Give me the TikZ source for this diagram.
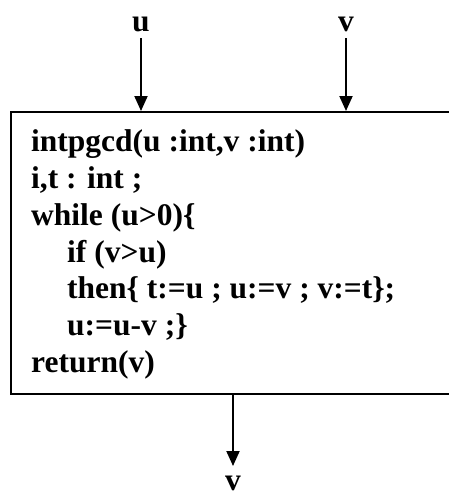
\documentclass[tikz,border=0pt]{standalone}
\usepackage{fontspec}
\setmainfont{Liberation Serif}
\usetikzlibrary{arrows.meta}
\begin{document}
\begin{tikzpicture}[x=1pt,y=-1pt,
  lbl/.style={font=\fontsize{31.5}{37}\selectfont\bfseries, inner sep=0pt, anchor=base},
  codeline/.style={font=\fontsize{31.5}{37}\selectfont\bfseries, inner sep=0pt, anchor=base west},
  flow/.style={line width=2pt, -{Triangle[length=15pt,width=13pt]}},
  boxstyle/.style={draw, line width=2pt, inner sep=0pt, anchor=north west}]
\useasboundingbox (0,0) rectangle (448,496);
% box (right side runs past the page)
\node[boxstyle, minimum width=470pt, minimum height=282pt] (box) at (10,111) {};
% input labels
\node[lbl] (lu) at (141,31) {u};
\node[lbl] (lv) at (346,31) {v};
\coordinate (u0) at (141,38);
\coordinate (v0) at (346,38);
\draw[flow] (u0) -- (u0 |- box.north);
\draw[flow] (v0) -- (v0 |- box.north);
% code
\node[codeline] (c1) at (31,151) {intpgcd(u :int,v :int)};
\node[codeline] (c2) at (31,188) {i,t : int ;};
\node[codeline] (c3) at (31,225) {while (u>0)\{};
\node[codeline] (c4) at (67,262) {if (v>u)};
\node[codeline] (c5) at (67,298) {then\{ t:=u ; u:=v ; v:=t\};};
\node[codeline] (c6) at (67,335) {u:=u-v ;\}};
\node[codeline] (c7) at (31,372) {return(v)};
% output
\coordinate (o0) at (233,393);
\coordinate (o1) at (233,466);
\node[lbl] (ov) at (233,490) {v};
\draw[flow] (o0 |- box.south) -- (o1);
\end{tikzpicture}
\end{document}
